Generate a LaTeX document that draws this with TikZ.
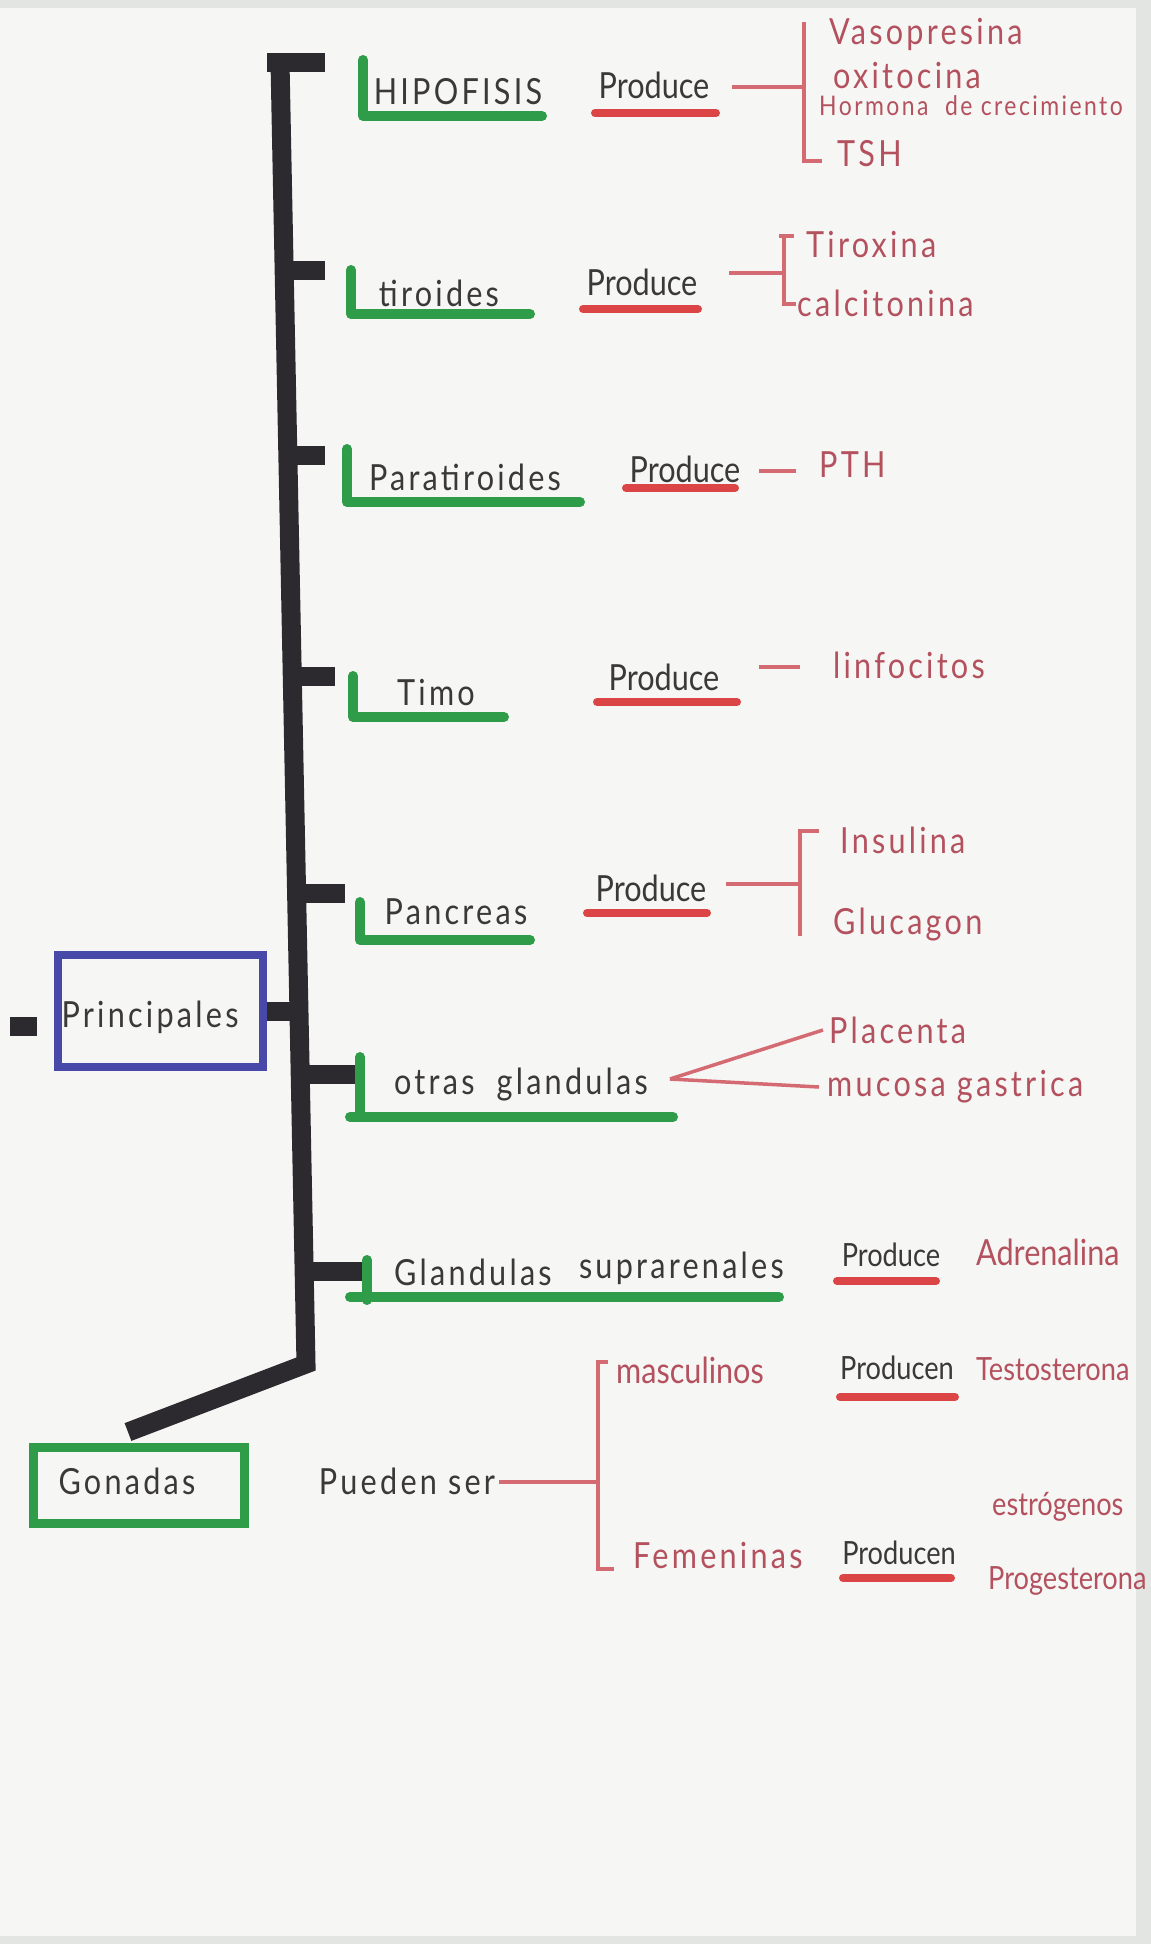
\documentclass[tikz,border=0pt]{standalone}
\usepackage{fontspec}
\setmainfont[FakeStretch=0.85]{Lato}
\newfontfamily\handA[FakeStretch=0.85]{Lato}
\newfontfamily\handB[FakeStretch=0.85,LetterSpace=9]{Lato}
\definecolor{paper}{HTML}{F6F6F4}
\definecolor{edge}{HTML}{E3E5E2}
\definecolor{markc}{HTML}{2C2A2E}
\definecolor{greenc}{HTML}{2E9C48}
\definecolor{redm}{HTML}{DC4545}
\definecolor{redline}{HTML}{D46A72}
\definecolor{redpen}{HTML}{B4515E}
\definecolor{bluec}{HTML}{4848A8}
\definecolor{inkc}{HTML}{3A3838}
\newcommand\hw{\handB\fontsize{36}{40}\selectfont}
\newcommand\hwt{\handA\fontsize{36}{40}\selectfont}
\newcommand\hwn{\handA\fontsize{32}{36}\selectfont}
\newcommand\hws{\handB\fontsize{27}{30}\selectfont}
\tikzset{
  ink/.style={font=\hw, text=inkc, inner sep=0pt},
  pink/.style={font=\hwt, text=inkc, inner sep=0pt},
  rink/.style={font=\hw, text=redpen, inner sep=0pt, anchor=west},
  spineline/.style={draw=markc, line width=19pt, line join=miter},
  stub/.style={draw=markc, line width=19pt},
  gl/.style={draw=greenc, line width=10pt, line cap=round, line join=round},
  ul/.style={draw=redm, line width=8pt, line cap=round},
  rl/.style={draw=redline, line width=3.5pt},
  bluebox/.style={draw=bluec, line width=8pt, minimum width=205pt, minimum height=112pt},
  greenbox/.style={draw=greenc, line width=9pt, minimum width=211pt, minimum height=76pt}
}
\begin{document}
\begin{tikzpicture}[x=1pt,y=-1pt]
% paper
\fill[paper] (0,0) rectangle (1151,1944);
\fill[edge] (1136,0) rectangle (1151,1944);
\fill[edge] (0,1936) rectangle (1151,1944);
\fill[edge] (0,0) rectangle (1151,8);
\useasboundingbox (0,0) rectangle (1151,1944);

% spine
\coordinate (sTop) at (280,62);
\coordinate (sBot) at (306,1364);
\coordinate (gEnd) at (128,1432);
\draw[spineline] (sTop) -- (sBot) -- (gEnd);
\fill[markc] (267,53) rectangle (325,72);

% stubs
\draw[stub] (284,270) -- (325,270);
\draw[stub] (288,455) -- (325,455);
\draw[stub] (292,676) -- (335,676);
\draw[stub] (297,893) -- (345,893);
\draw[stub] (300,1074) -- (360,1074);
\draw[stub] (304,1271) -- (370,1271);

% left boxes
\node[bluebox] (prin) at (160.5,1011) {};
\node[ink] (prinT) at (150,1017) {Principales};
\draw[stub] (prin.east) -- (299,1011);
\fill[markc] (10,1017) rectangle (37,1036);
\node[greenbox] (gon) at (138.5,1485) {};
\node[ink] (gonT) at (127,1481) {Gonadas};

% green L labels
\node[ink] (hip) at (458,92) {HIPOFISIS};
\draw[gl] (363,60) -- (363,116) -- (542,116);
\node[ink] (tir) at (439,293) {tiroides};
\draw[gl] (351,270) -- (351,314) -- (530,314);
\node[ink] (par) at (465,477) {Paratiroides};
\draw[gl] (347,449) -- (347,502) -- (580,502);
\node[ink] (tim) at (436,692) {Timo};
\draw[gl] (353,676) -- (353,717) -- (504,717);
\node[ink] (pan) at (456,912) {Pancreas};
\draw[gl] (360,902) -- (360,940) -- (530,940);
\node[ink] (otr) at (521,1085) {otras\ \ glandulas};
\draw[gl] (360,1057) -- (360,1117);
\draw[gl] (350,1117) -- (673,1117);
\node[ink, anchor=west] (sup1) at (394,1272) {Glandulas};
\node[ink, anchor=east] (sup2) at (784,1268) {suprarenales};
\draw[gl] (367,1260) -- (367,1300);
\draw[gl] (350,1297) -- (779,1297);

% Produce labels
\node[pink] (p1) at (654,85) {Produce};
\draw[ul] (595,113) -- (716,113);
\node[pink] (p2) at (642,282) {Produce};
\draw[ul] (583,309) -- (698,309);
\node[pink] (p3) at (685,469) {Produce};
\draw[ul] (626,488) -- (735,488);
\node[pink] (p4) at (664,677) {Produce};
\draw[ul] (597,702) -- (737,702);
\node[pink] (p5) at (651,888) {Produce};
\draw[ul] (587,913) -- (707,913);
\node[pink, font=\hwn] (p6) at (891,1255) {Produce};
\draw[ul] (837,1281) -- (936,1281);
\node[pink, font=\hwn] (p7) at (897,1368) {Producen};
\draw[ul] (840,1397) -- (955,1397);
\node[pink, font=\hwn] (p8) at (899,1553) {Producen};
\draw[ul] (843,1578) -- (951,1578);

% row 1
\draw[rl] (732,87) -- (804,87);
\draw[rl] (804,22) -- (804,161) -- (822,161);
\node[rink] (vas) at (829,34) {Vasopresina};
\node[rink] (oxi) at (833,76) {oxitocina};
\node[rink, font=\hws] (hor) at (819,106) {Hormona\ \ de crecimiento};
\node[rink] (tsh) at (837,154) {TSH};

% row 2
\draw[rl] (729,273) -- (784,273);
\draw[rl] (779,236) -- (794,236);
\draw[rl] (784,236) -- (784,304) -- (796,304);
\node[rink] (tix) at (806,245) {Tiroxina};
\node[rink] (cal) at (797,303) {calcitonina};

% row 3
\draw[rl] (759,471) -- (796,471);
\node[rink] (pth) at (819,465) {PTH};

% row 4
\draw[rl] (759,667) -- (800,667);
\node[rink] (lin) at (833,665) {linfocitos};

% row 5
\draw[rl] (726,884) -- (800,884);
\draw[rl] (819,831) -- (800,831) -- (800,936);
\node[rink] (ins) at (840,840) {Insulina};
\node[rink] (glu) at (833,925) {Glucagon};

% row 6
\coordinate (oj) at (670,1079);
\node[rink] (pla) at (829,1030) {Placenta};
\node[rink] (muc) at (827,1087) {mucosa gastrica};
\draw[rl] (oj) -- ([xshift=-6pt]pla.west);
\draw[rl] (oj) -- ([xshift=-8pt]muc.west);

% suprarenales
\node[rink, font=\hwt] (adr) at (976,1252) {Adrenalina};

% gonadas
\node[ink] (pue) at (407,1481) {Pueden ser};
\draw[rl] (pue.east) ++(4,1) -- (598,1482);
\draw[rl] (608,1362) -- (598,1362) -- (598,1569) -- (614,1569);
\node[rink, font=\hwt] (mas) at (616,1370) {masculinos};
\node[rink] (fem) at (633,1555) {Femeninas};
\node[rink, font=\hwn] (tes) at (976,1369) {Testosterona};
\node[rink, font=\hwn] (est) at (992,1507) {estrógenos};
\node[rink, font=\hwn] (pro) at (988,1581) {Progesterona};
\end{tikzpicture}
\end{document}
